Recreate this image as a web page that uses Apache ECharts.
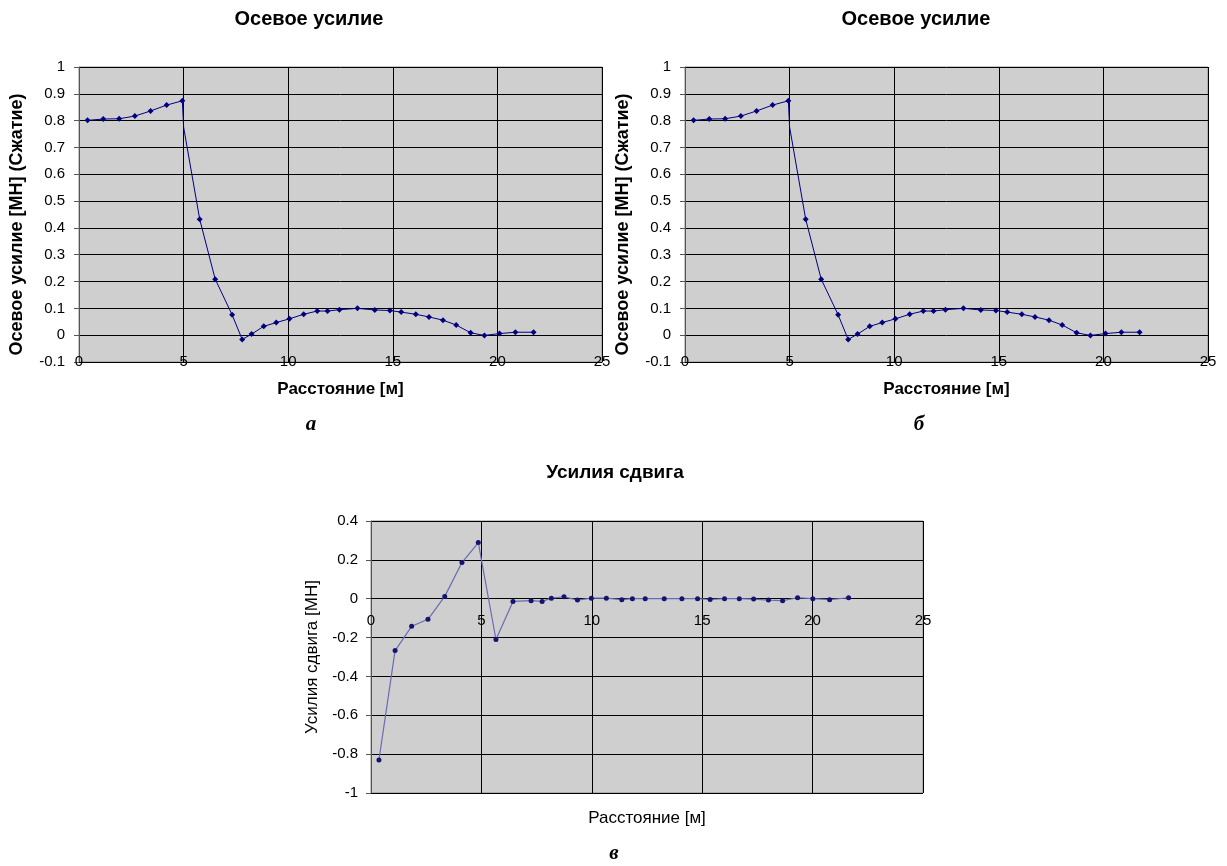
<!DOCTYPE html>
<html>
<head>
<meta charset="utf-8">
<script src="https://cdn.jsdelivr.net/npm/echarts@6/dist/echarts.min.js"></script>
<style>
html,body{margin:0;padding:0;background:#fff;}
#c{width:1227px;height:866px;}
</style>
</head>
<body>
<div id="c"></div>
<script>
// Axial force (charts а and б share the same data)
var axialX = [0.41, 1.16, 1.92, 2.67, 3.42, 4.19, 4.94, 5.0, 5.77, 6.51, 7.32, 7.80, 8.25, 8.83, 9.43, 10.06, 10.74, 11.39, 11.88, 12.45, 13.31, 14.14, 14.86, 15.40, 16.10, 16.73, 17.40, 18.03, 18.72, 19.38, 20.10, 20.86, 21.73];
var axialY = [0.801, 0.806, 0.807, 0.817, 0.836, 0.858, 0.874, 0.776, 0.432, 0.209, 0.076, -0.016, 0.004, 0.033, 0.047, 0.061, 0.078, 0.090, 0.090, 0.095, 0.100, 0.094, 0.092, 0.086, 0.078, 0.068, 0.056, 0.038, 0.009, -0.001, 0.006, 0.011, 0.011];
// Shear force (chart в)
var shearX = [0.36, 1.09, 1.84, 2.58, 3.34, 4.12, 4.86, 5.66, 6.43, 7.25, 7.75, 8.17, 8.74, 9.35, 9.98, 10.66, 11.36, 11.84, 12.42, 13.28, 14.08, 14.79, 15.36, 16.01, 16.68, 17.33, 18.00, 18.64, 19.32, 20.01, 20.77, 21.63];
var shearY = [-0.83, -0.267, -0.142, -0.106, 0.012, 0.186, 0.289, -0.21, -0.014, -0.010, -0.014, 0.003, 0.010, -0.007, 0.003, 0.003, -0.005, 0.0, 0.0, 0.0, 0.0, 0.0, -0.004, 0.0, 0.0, -0.002, -0.007, -0.010, 0.005, 0.0, -0.005, 0.005];

var titleAxial = 'Осевое усилие';
var titleShear = 'Усилия сдвига';
var yNameAxial = 'Осевое усилие [МН] (Сжатие)';
var yNameShear = 'Усилия сдвига [МН]';
var xName = 'Расстояние [м]';
var subLabels = ['а', 'б', 'в'];

function pairs(xs, ys) { return xs.map(function (x, i) { return [x, ys[i]]; }); }

var FONT = 'Liberation Sans, Arial, sans-serif';
var SERIF = 'Liberation Serif, DejaVu Serif, serif';

function xAxisDef(gridIndex, offset, labelMargin, nameGap, bold, fs, nfs) {
  return {
    type: 'value', gridIndex: gridIndex, min: 0, max: 25, interval: 5,
    position: 'bottom', offset: offset,
    axisLine: { show: true, onZero: false, lineStyle: { color: '#000', width: 1 } },
    axisTick: { show: false },
    axisLabel: { color: '#000', fontFamily: FONT, fontSize: fs, margin: labelMargin, verticalAlign: 'middle' },
    splitLine: { show: true, lineStyle: { color: '#000', width: 1 } },
    name: xName, nameLocation: 'middle', nameGap: nameGap,
    nameTextStyle: { color: '#000', fontFamily: FONT, fontSize: nfs, fontWeight: bold ? 'bold' : 'normal' }
  };
}
function yAxisDef(gridIndex, min, max, interval, name, nameGap, bold, pad, fs, nfs, lm) {
  return {
    type: 'value', gridIndex: gridIndex, min: min, max: max, interval: interval,
    axisLine: { show: true, onZero: false, lineStyle: { color: '#555', width: 1 } },
    axisTick: { show: true, inside: false, length: 5, lineStyle: { color: '#555' } },
    axisLabel: { color: '#000', fontFamily: FONT, fontSize: fs, margin: lm },
    splitLine: { show: true, lineStyle: { color: '#000', width: 1 } },
    name: name, nameLocation: 'middle', nameGap: nameGap,
    nameTextStyle: { color: '#000', fontFamily: FONT, fontSize: nfs, fontWeight: bold ? 'bold' : 'normal', padding: pad }
  };
}

var gridStyle = { show: true, backgroundColor: '#cfcfcf', borderColor: '#8c8c8c', borderWidth: 1, containLabel: false, outerBoundsMode: 'none' };

var titleStyleTop = { fontFamily: FONT, fontSize: 20, fontWeight: 'bold', color: '#000' };
var titleStyleBottom = { fontFamily: FONT, fontSize: 19, fontWeight: 'bold', color: '#000' };
var subStyle = { fontFamily: SERIF, fontSize: 21, fontWeight: 'bold', fontStyle: 'italic', color: '#000' };

// the point at the bottom of the vertical drop carries no marker in the original
function axialSymbolSize(value, params) { return params.dataIndex === 7 ? 0 : 6; }

var option = {
  backgroundColor: '#ffffff',
  animation: false,
  title: [
    { text: titleAxial, left: 309, top: 9, padding: 0, textAlign: 'center', textStyle: titleStyleTop },
    { text: titleAxial, left: 916, top: 9, padding: 0, textAlign: 'center', textStyle: titleStyleTop },
    { text: titleShear, left: 615, top: 463, padding: 0, textAlign: 'center', textStyle: titleStyleBottom },
    { text: subLabels[0], left: 311, top: 414, padding: 0, textAlign: 'center', textStyle: subStyle },
    { text: subLabels[1], left: 919, top: 414, padding: 0, textAlign: 'center', textStyle: subStyle },
    { text: subLabels[2], left: 614, top: 843, padding: 0, textAlign: 'center', textStyle: subStyle }
  ],
  grid: [
    Object.assign({ left: 79, top: 67, width: 523, height: 295 }, gridStyle),
    Object.assign({ left: 685, top: 67, width: 523, height: 295 }, gridStyle),
    Object.assign({ left: 371, top: 521, width: 552, height: 272 }, gridStyle)
  ],
  xAxis: [
    xAxisDef(0, 0, 0, 19, true, 15, 17),
    xAxisDef(1, 0, 0, 19, true, 15, 17),
    xAxisDef(2, -195, 23, 212, false, 15, 17)
  ],
  yAxis: [
    yAxisDef(0, -0.1, 1, 0.1, yNameAxial, 53, true, [0, 20, 0, 0], 15, 18, 14),
    yAxisDef(1, -0.1, 1, 0.1, yNameAxial, 53, true, [0, 20, 0, 0], 15, 18, 14),
    yAxisDef(2, -1, 0.4, 0.2, yNameShear, 50, false, 0, 15, 17, 13)
  ],
  series: [
    { type: 'line', xAxisIndex: 0, yAxisIndex: 0, data: pairs(axialX, axialY), symbol: 'diamond', symbolSize: axialSymbolSize,
      lineStyle: { color: '#000080', width: 1 }, itemStyle: { color: '#000080' } },
    { type: 'line', xAxisIndex: 1, yAxisIndex: 1, data: pairs(axialX, axialY), symbol: 'diamond', symbolSize: axialSymbolSize,
      lineStyle: { color: '#000080', width: 1 }, itemStyle: { color: '#000080' } },
    { type: 'line', xAxisIndex: 2, yAxisIndex: 2, data: pairs(shearX, shearY), symbol: 'circle', symbolSize: 5,
      lineStyle: { color: '#6a6ab4', width: 1.2 }, itemStyle: { color: '#14146e' } }
  ]
};

var chart = echarts.init(document.getElementById('c'));
chart.setOption(option);
</script>
</body>
</html>
